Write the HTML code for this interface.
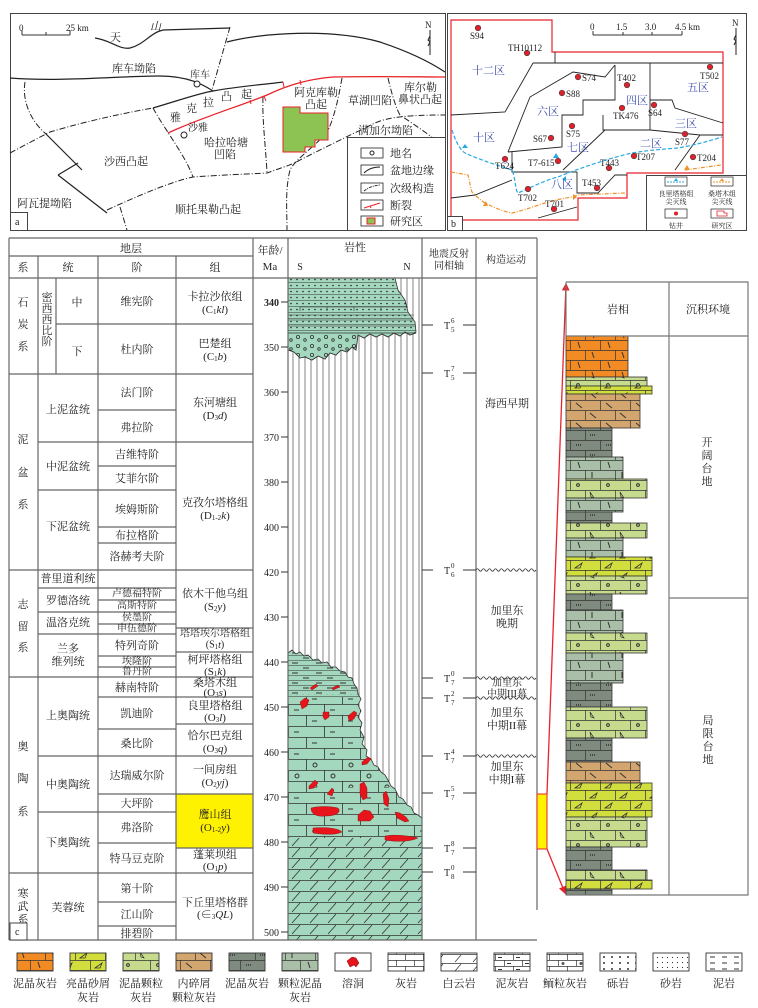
<!DOCTYPE html>
<html><head><meta charset="utf-8"><style>
html,body{margin:0;padding:0;background:#fff}
svg{display:block}
text{font-family:"Liberation Serif","Noto Serif CJK SC",serif;fill:#222}
.t11{font-size:11px}.t10{font-size:10px}.t9{font-size:9px}.t8{font-size:8px}.t7{font-size:7px}
.bl{fill:#4050b0}
</style></head><body>
<svg width="758" height="1008" viewBox="0 0 758 1008" xmlns="http://www.w3.org/2000/svg">
<defs>
<pattern id="limeG" patternUnits="userSpaceOnUse" width="36" height="22"><rect width="36" height="22" fill="#a3d8be"/><path d="M0,0.5H36M0,11.5H36M0.5,0V11M18.5,11V22" stroke="#333" stroke-width="0.8"/><path d="M6,6H11M24,17H29" stroke="#333" stroke-width="1"/></pattern>
<pattern id="marlG" patternUnits="userSpaceOnUse" width="24" height="10"><rect width="24" height="10" fill="#a3d8be"/><path d="M0,0.5H24M0,5.5H24" stroke="#333" stroke-width="0.6"/><path d="M4,3H10M15,8H21" stroke="#333" stroke-width="1"/></pattern>
<pattern id="dolG" patternUnits="userSpaceOnUse" width="36" height="11"><rect width="36" height="11" fill="#a3d8be"/><path d="M0,0.5H36M4,10L12,1M22,10L30,1" stroke="#333" stroke-width="0.8"/></pattern>
<pattern id="oolG" patternUnits="userSpaceOnUse" width="36" height="22"><rect width="36" height="22" fill="#a3d8be"/><path d="M0,0.5H36M0,11.5H36M0.5,0V11M18.5,11V22" stroke="#333" stroke-width="0.8"/><circle cx="9" cy="6" r="2" fill="none" stroke="#333"/><circle cx="27" cy="17" r="2" fill="none" stroke="#333"/></pattern>
<pattern id="sandG" patternUnits="userSpaceOnUse" width="6" height="6"><rect width="6" height="6" fill="#a3d8be"/><path d="M0,0.5H6" stroke="#333" stroke-width="0.5"/><circle cx="3" cy="3.5" r="0.8" fill="#222"/></pattern>
<pattern id="cgG" patternUnits="userSpaceOnUse" width="14" height="9"><rect width="14" height="9" fill="#a3d8be"/><circle cx="4" cy="4" r="1.6" fill="none" stroke="#333" stroke-width="0.8"/><circle cx="11" cy="7" r="1.3" fill="none" stroke="#333" stroke-width="0.8"/></pattern>
<pattern id="pO" patternUnits="userSpaceOnUse" width="30" height="20"><rect width="30" height="20" fill="#f28b24"/><path d="M0,0.5H30M0,10.5H30M0.5,0V10M15.5,10V20" stroke="#333" stroke-width="0.7"/><path d="M8,2L10,8M22,12L24,18" stroke="#333"/></pattern>
<pattern id="pLG" patternUnits="userSpaceOnUse" width="30" height="20"><rect width="30" height="20" fill="#c7db8e"/><path d="M0,0.5H30M0,10.5H30M0.5,0V10M15.5,10V20" stroke="#333" stroke-width="0.7"/><circle cx="8" cy="5" r="1.4" fill="none" stroke="#333"/><path d="M20,12L24,18L21,17Z" fill="none" stroke="#333" stroke-width="0.7"/></pattern>
<pattern id="pYG" patternUnits="userSpaceOnUse" width="30" height="20"><rect width="30" height="20" fill="#d2de3e"/><path d="M0,0.5H30M0,10.5H30M0.5,0V10M15.5,10V20" stroke="#333" stroke-width="0.7"/><path d="M5,8L12,3L10,8Z M20,18L27,13L25,18Z" fill="none" stroke="#333" stroke-width="0.8"/></pattern>
<pattern id="pT" patternUnits="userSpaceOnUse" width="30" height="20"><rect width="30" height="20" fill="#d3a670"/><path d="M0,0.5H30M0,10.5H30M0.5,0V10M15.5,10V20" stroke="#333" stroke-width="0.7"/><path d="M6,3L12,8M20,13L26,18" stroke="#333"/></pattern>
<pattern id="pDG" patternUnits="userSpaceOnUse" width="30" height="20"><rect width="30" height="20" fill="#808b80"/><path d="M0,0.5H30M0,10.5H30M0.5,0V10M15.5,10V20" stroke="#333" stroke-width="0.7"/><path d="M6,5h5M20,15h5" stroke="#222" stroke-width="1.2" stroke-dasharray="1,1"/></pattern>
<pattern id="pGG" patternUnits="userSpaceOnUse" width="30" height="20"><rect width="30" height="20" fill="#a9bfa8"/><path d="M0,0.5H30M0,10.5H30M0.5,0V10M15.5,10V20" stroke="#333" stroke-width="0.7"/><path d="M8,2L10,8M22,12V18" stroke="#333"/></pattern>
<pattern id="wLime" patternUnits="userSpaceOnUse" width="18" height="12"><rect width="18" height="12" fill="#fff"/><path d="M0,0.5H18M0,6.5H18M0.5,0V6M9.5,6V12" stroke="#333" stroke-width="0.7"/></pattern>
<pattern id="wDol" patternUnits="userSpaceOnUse" width="18" height="9"><rect width="18" height="9" fill="#fff"/><path d="M0,0.5H18M5,8L11,1" stroke="#333" stroke-width="0.7"/></pattern>
<pattern id="wMarl" patternUnits="userSpaceOnUse" width="18" height="12"><rect width="18" height="12" fill="#fff"/><path d="M0,0.5H18M0,6.5H18M0.5,0V6M9.5,6V12" stroke="#333" stroke-width="0.7"/><path d="M3,3.5H7M12,9.5H16" stroke="#333"/></pattern>
<pattern id="wOol" patternUnits="userSpaceOnUse" width="18" height="12"><rect width="18" height="12" fill="#fff"/><path d="M0,0.5H18M0,6.5H18M0.5,0V6M9.5,6V12" stroke="#333" stroke-width="0.7"/><circle cx="5" cy="3.5" r="1.5" fill="#555"/></pattern>
<pattern id="wCg" patternUnits="userSpaceOnUse" width="8" height="6"><rect width="8" height="6" fill="#fff"/><circle cx="4" cy="3" r="1" fill="#333"/></pattern>
<pattern id="wSd" patternUnits="userSpaceOnUse" width="5" height="5"><rect width="5" height="5" fill="#fff"/><circle cx="2.5" cy="2.5" r="0.6" fill="#333"/></pattern>
<pattern id="wMud" patternUnits="userSpaceOnUse" width="12" height="6"><rect width="12" height="6" fill="#fff"/><path d="M2,3H7" stroke="#333"/></pattern>
<clipPath id="lowClip"><path d="M288,653 L292,650 296,654 300,652 304,656 308,655 313,660 318,659 322,663 327,662 331,667 336,667 340,671 345,672 348,677 352,678 354,684 357,688 358,694 361,699 358,705 361,711 358,717 362,723 360,730 364,737 362,744 367,750 366,756 371,759 374,765 378,767 381,772 385,775 388,780 391,786 395,789 399,797 403,799 407,805 411,807 414,813 418,815 422,818 L422,940 L288,940 Z"/></clipPath>
<marker id="ar" markerWidth="6" markerHeight="6" refX="5" refY="3" orient="auto"><path d="M0,0L6,3L0,6Z" fill="#e8232a"/></marker>
</defs>

<!-- ================= PANEL A ================= -->
<rect x="10.5" y="13.5" width="435" height="217" fill="#fff" stroke="#444"/>
<path d="M22,35H70M22,30V35M46,32V35M70,30V35" stroke="#333" fill="none"/>
<text x="19" y="31" class="t9">0</text><text x="66" y="31" class="t9">25 km</text>
<text x="110" y="41" class="t11">天</text><text x="150" y="30" class="t11" font-style="italic">山</text>
<g fill="none" stroke="#222" stroke-width="1.2">
<path d="M95,38 C110,40 120,50 130,48 C145,44 150,33 163,30 L230,28"/>
<path d="M227,42 C260,33 330,28 380,42 C410,52 430,62 445,72"/>
<path d="M10,78 C60,82 120,76 160,76 C190,76 205,86 213,91"/>
<path d="M153,108 C180,100 200,93 213,91 C240,86 270,84 283,82"/>
<path d="M45,133 L82,170 M58,175 L78,163 M58,175 L107,213"/>
</g>
<g fill="none" stroke="#222" stroke-width="1" stroke-dasharray="6,2,1,2">
<path d="M230,27 L212,90"/>
<path d="M25,82 C22,100 30,120 45,133"/>
<path d="M10,153 C25,145 40,137 50,132 C90,120 130,112 153,108"/>
<path d="M153,108 C165,130 185,155 193,177"/>
<path d="M263,97 C262,120 266,150 267,173"/>
<path d="M342,78 C338,100 335,115 327,133 C310,150 295,160 290,170 C285,190 287,210 287,230"/>
<path d="M107,210 C140,195 170,182 193,177 C220,175 250,174 267,173 C280,168 292,165 300,160 C330,145 350,135 367,127 C380,120 390,115 445,115"/>
<path d="M388,78 C392,95 396,108 400,115 C415,125 425,132 433,138"/>
<path d="M120,207 L127,230"/>
</g>
<path d="M168,133 C200,118 240,106 267,95 C290,84 310,79 333,77 C380,76 420,77 445,77" fill="none" stroke="#e8232a" stroke-width="1.3"/>
<path d="M283,82 l1,5 M300,80 l1,5 M264,96 l2,5 M250,100 l1,4" stroke="#e8232a"/>
<path d="M283,107 H300 V113 H328 V140 H315 V147 H305 V152 H283 Z" fill="#8cc352" stroke="#e8232a" stroke-width="1"/>
<circle cx="197" cy="84" r="3" fill="#fff" stroke="#222"/>
<circle cx="184" cy="135" r="3" fill="#fff" stroke="#222"/>
<text x="112" y="72" class="t11">库车坳陷</text>
<text x="190" y="78" class="t10">库车</text>
<text x="170" y="121" class="t11">雅</text><text x="186" y="112" class="t11">克</text><text x="203" y="106" class="t11">拉</text><text x="221" y="100" class="t11">凸</text><text x="241" y="98" class="t11">起</text>
<text x="188" y="131" class="t10">沙雅</text>
<text x="204" y="146" class="t11">哈拉哈塘</text><text x="214" y="158" class="t11">凹陷</text>
<text x="104" y="165" class="t11">沙西凸起</text>
<text x="294" y="96" class="t11">阿克库勒</text><text x="305" y="108" class="t11">凸起</text>
<text x="348" y="104" class="t11">草湖凹陷</text>
<text x="404" y="91" class="t11">库尔勒</text><text x="398" y="103" class="t11">鼻状凸起</text>
<text x="358" y="134" class="t11">满加尔坳陷</text>
<text x="17" y="207" class="t11">阿瓦提坳陷</text>
<text x="175" y="213" class="t11">顺托果勒凸起</text>
<text x="425" y="28" class="t9">N</text><path d="M430,30 V55 M430,36 l-2,4 l2,2 l-2,4" stroke="#222" fill="none"/>
<rect x="347.5" y="137.5" width="98" height="93" fill="#fff" stroke="#444"/>
<g fill="#fff" stroke="#222" stroke-width="0.8">
<rect x="361" y="148" width="22" height="10"/><rect x="361" y="165" width="22" height="10"/><rect x="361" y="183" width="22" height="10"/><rect x="361" y="200" width="22" height="10"/><rect x="361" y="216" width="22" height="10"/>
</g>
<circle cx="372" cy="153" r="2" fill="none" stroke="#222"/>
<path d="M364,173 Q370,167 380,167" fill="none" stroke="#222"/>
<path d="M364,191 Q370,186 380,185" fill="none" stroke="#222" stroke-dasharray="3,1,1,1"/>
<path d="M364,208 L380,203 M370,206 l1,2" stroke="#e8232a" fill="none"/>
<path d="M367,218 H375 V224 H367Z" fill="#8cc352" stroke="#e8232a"/>
<text x="390" y="157" class="t11">地名</text><text x="390" y="174" class="t11">盆地边缘</text><text x="390" y="192" class="t11">次级构造</text><text x="390" y="209" class="t11">断裂</text><text x="390" y="225" class="t11">研究区</text>
<rect x="10.5" y="212.5" width="17" height="18" fill="#fff" stroke="#444"/><text x="15" y="225" class="t10">a</text>

<!-- ================= PANEL B ================= -->
<rect x="447.5" y="13.5" width="299" height="217" fill="#fff" stroke="#444"/>
<path d="M451,20 H552 V52 H723 V173 H627 V198 H578 V220 H451 Z" fill="none" stroke="#e8232a" stroke-width="1.2"/>
<g fill="none" stroke="#222" stroke-width="0.9">
<path d="M555,52 V63 M533,63 H723"/>
<path d="M533,63 L505,112 L451,115"/>
<path d="M615,65 L605,77 L573,72 L530,97 L508,152"/>
<path d="M615,65 V100 H583 V115 H562 V147 L508,152"/>
<path d="M603,115 V130 H650"/>
<path d="M650,63 V130"/>
<path d="M650,100 H672 L675,108 L723,123"/>
<path d="M605,130 L563,170"/>
<path d="M650,130 L700,135 H723"/>
<path d="M700,135 L675,170"/>
<path d="M512,152 V172 H577"/>
<path d="M512,180 L475,195 L451,198"/>
<path d="M577,172 V193 H598 L615,175 H627"/>
<path d="M538,218 L577,207"/>
</g>
<path d="M452,130 C455,140 460,150 465,153 C480,160 500,166 512,170 C516,180 515,190 518,193 C530,188 545,180 558,177 C580,168 610,158 632,153 C650,150 665,149 678,148 C700,144 712,140 722,137" fill="none" stroke="#29a8e0" stroke-width="1.2" stroke-dasharray="4,2"/>
<path d="M451,172 L468,175 C470,183 471,190 472,192 C478,198 482,201 485,203 C495,208 505,212 512,213 C525,210 535,206 545,203 C555,200 565,198 572,197 L578,195 L625,193" fill="none" stroke="#f0922a" stroke-width="1.2" stroke-dasharray="4,1.5,1,1.5"/>
<path d="M685,170 C700,168 712,166 722,165" fill="none" stroke="#f0922a" stroke-width="1.2" stroke-dasharray="4,1.5,1,1.5"/>
<path d="M462,148 l3,-4 l3,4Z M553,158 l3,-5 l3,5Z M562,179 l4,-3 l0,6Z" fill="#29a8e0"/>
<path d="M684,170 l3,-5 l3,5Z M483,206 l3,-5 l2,5Z M573,194 l4,3 l-4,3Z" fill="#f0922a"/>
<g fill="#e0202a" stroke="#444" stroke-width="0.6">
<circle cx="478" cy="28" r="2.8"/><circle cx="527" cy="53" r="2.8"/><circle cx="578" cy="77" r="2.8"/><circle cx="627" cy="85" r="2.8"/><circle cx="710" cy="67" r="2.8"/><circle cx="562" cy="93" r="2.8"/><circle cx="622" cy="108" r="2.8"/><circle cx="654" cy="105" r="2.8"/><circle cx="572" cy="126" r="2.8"/><circle cx="551" cy="138" r="2.8"/><circle cx="685" cy="134" r="2.8"/><circle cx="505" cy="159" r="2.8"/><circle cx="558" cy="161" r="2.8"/><circle cx="609" cy="168" r="2.8"/><circle cx="634" cy="156" r="2.8"/><circle cx="693" cy="157" r="2.8"/><circle cx="597" cy="188" r="2.8"/><circle cx="528" cy="189" r="2.8"/><circle cx="554" cy="209" r="2.8"/>
</g>
<g class="t9">
<text x="470" y="39" class="t9">S94</text><text x="508" y="51" class="t9">TH10112</text><text x="582" y="81" class="t9">S74</text><text x="617" y="81" class="t9">T402</text><text x="700" y="79" class="t9">T502</text><text x="566" y="97" class="t9">S88</text><text x="613" y="119" class="t9">TK476</text><text x="648" y="116" class="t9">S64</text><text x="566" y="137" class="t9">S75</text><text x="533" y="142" class="t9">S67</text><text x="675" y="145" class="t9">S77</text><text x="495" y="169" class="t9">T624</text><text x="528" y="166" class="t9">T7-615</text><text x="600" y="166" class="t9">T443</text><text x="636" y="160" class="t9">T207</text><text x="697" y="161" class="t9">T204</text><text x="582" y="186" class="t9">T453</text><text x="518" y="201" class="t9">T702</text><text x="545" y="207" class="t9">T701</text>
</g>
<text x="472" y="74" class="t11 bl">十二区</text><text x="537" y="115" class="t11 bl">六区</text><text x="626" y="104" class="t11 bl">四区</text><text x="687" y="91" class="t11 bl">五区</text><text x="675" y="127" class="t11 bl">三区</text><text x="473" y="141" class="t11 bl">十区</text><text x="567" y="151" class="t11 bl">七区</text><text x="640" y="147" class="t11 bl">二区</text><text x="551" y="188" class="t11 bl">八区</text>
<path d="M593,35H682M593,31V35M623,32V35M652,32V35M682,31V35" stroke="#333" fill="none"/>
<text x="590" y="30" class="t9">0</text><text x="616" y="30" class="t9">1.5</text><text x="645" y="30" class="t9">3.0</text><text x="675" y="30" class="t9">4.5 km</text>
<text x="732" y="26" class="t9">N</text><path d="M736,28 V55 M736,35 l-2,4 l2,2 l-2,4" stroke="#222" fill="none"/>
<rect x="646.5" y="175.5" width="100" height="55" fill="#fff" stroke="#444"/>
<rect x="665" y="177" width="22" height="9" fill="#fff" stroke="#222" stroke-width="0.7"/><path d="M667,182H685" stroke="#29a8e0" stroke-dasharray="2,1"/><path d="M674,181 l2,-3 l2,3Z" fill="#29a8e0"/>
<rect x="711" y="177" width="22" height="9" fill="#fff" stroke="#222" stroke-width="0.7"/><path d="M713,182H731" stroke="#f0922a" stroke-dasharray="2,1"/><path d="M720,181 l2,-3 l2,3Z" fill="#f0922a"/>
<text x="676" y="196" class="t7" text-anchor="middle">良里塔格组</text><text x="676" y="204" class="t7" text-anchor="middle">尖灭线</text>
<text x="722" y="196" class="t7" text-anchor="middle">桑塔木组</text><text x="722" y="204" class="t7" text-anchor="middle">尖灭线</text>
<rect x="665" y="209" width="22" height="9" fill="#fff" stroke="#222" stroke-width="0.7"/><circle cx="676" cy="213.5" r="2" fill="#e0202a"/>
<rect x="711" y="209" width="22" height="9" fill="#fff" stroke="#222" stroke-width="0.7"/><path d="M717,211H724V213H727V216H717Z" fill="#fff" stroke="#e8232a" stroke-width="0.8"/>
<text x="676" y="228" class="t7" text-anchor="middle">钻井</text><text x="722" y="228" class="t7" text-anchor="middle">研究区</text>
<rect x="447.5" y="216.5" width="15" height="14" fill="#fff" stroke="#444"/><text x="451" y="227" class="t10">b</text>

<!-- ================= PANEL C TABLE ================= -->
<rect x="176" y="794" width="77" height="54" fill="#fff200" stroke="#c8a800" stroke-width="1"/>
<!-- lithology column -->
<g stroke="#777" stroke-width="0.9">
<path d="M293,278V940M299,278V940M305,278V940M311,278V940M317,278V940M323,278V940M329,278V940M335,278V940M341,278V940M347,278V940M353,278V940M359,278V940M365,278V940M371,278V940M377,278V940M383,278V940M389,278V940M395,278V940M401,278V940M407,278V940M413,278V940M419,278V940"/>
</g>
<path d="M288,278 L395,278 L398,290 L405,300 L408,312 L415,322 L416,332 L410,335 L405,332 L400,336 L394,333 L388,337 L382,334 L376,337 L370,334 L364,338 L358,335 L356,350 L352,347 L347,352 L341,350 L336,355 L330,353 L325,359 L318,356 L312,360 L305,357 L300,358 L294,352 L288,350 Z" fill="url(#sandG)" stroke="#333" stroke-width="0.8"/>
<path d="M288,315 H414 M288,320H414 M288,326H416 M300,307 H408 M300,307V311 M327,307V311 M354,307V311 M381,307V311" stroke="#333" stroke-width="0.6" fill="none"/>
<path d="M288,333 L416,333 L410,335 L405,332 L400,336 L394,333 L388,337 L382,334 L376,337 L370,334 L364,338 L358,335 L356,350 L352,347 L347,352 L341,350 L336,355 L330,353 L325,359 L318,356 L312,360 L305,357 L300,358 L294,352 L288,350 Z" fill="url(#cgG)" stroke="#333" stroke-width="0.8"/>
<g clip-path="url(#lowClip)">
<rect x="288" y="640" width="134" height="60" fill="url(#marlG)"/>
<rect x="288" y="694" width="134" height="3" fill="url(#sandG)"/>
<rect x="288" y="697" width="134" height="60" fill="url(#limeG)"/>
<rect x="288" y="757" width="134" height="30" fill="url(#oolG)"/>
<rect x="288" y="787" width="134" height="51" fill="url(#limeG)"/>
<rect x="288" y="838" width="134" height="102" fill="url(#dolG)"/>
</g>
<path d="M288,653 L292,650 296,654 300,652 304,656 308,655 313,660 318,659 322,663 327,662 331,667 336,667 340,671 345,672 348,677 352,678 354,684 357,688 358,694 361,699 358,705 361,711 358,717 362,723 360,730 364,737 362,744 367,750 366,756 371,759 374,765 378,767 381,772 385,775 388,780 391,786 395,789 399,797 403,799 407,805 411,807 414,813 418,815 422,818" fill="none" stroke="#333" stroke-width="0.8"/>
<g fill="#e8141c" stroke="#7a1010" stroke-width="0.4">
<path d="M310,688 l6,-4 l2,2 l-6,4Z"/><path d="M332,688 l6,-3 l2,2 l-7,3Z"/>
<path d="M300,702 l5,-4 l4,2 l-2,6 l-5,3Z"/><path d="M323,712 l6,0 l0,5 l-4,3 l-2,-3Z"/><path d="M348,716 l6,-5 l3,2 l-3,6 l-5,2Z"/>
<path d="M362,762 l6,-5 l3,2 l-4,5 l-5,1Z"/>
<path d="M309,786 l6,-6 l3,3 l-4,5 l-5,1Z"/><path d="M327,794 l5,-6 l2,2 l-2,6Z"/>
<path d="M360,784 l4,-2 l3,6 l0,10 l-4,2 l-3,-6Z"/><path d="M383,794 l3,-3 l3,8 l-1,8 l-4,-3Z"/>
<path d="M311,808 C318,806 330,806 338,808 C342,812 336,816 326,816 C318,817 311,815 311,808Z"/>
<path d="M358,815 l6,-5 l6,1 l4,6 l-4,4 l-12,0Z"/><path d="M395,812 l5,1 l6,4 l3,4 l-4,1 l-8,-4Z"/>
<path d="M313,828 C325,827 338,828 342,832 C334,836 320,834 313,833Z"/>
<path d="M385,836 C395,834 410,836 418,838 C410,842 395,842 385,840Z"/>
</g>
<!-- table lines -->
<g stroke="#666" stroke-width="1.2" fill="none">
<path d="M9,238 H537 M9,256 H253 M9,278 H537 M9,940 H537"/>
<path d="M9,238 V940 M38,256 V940 M98,256 V940 M176,256 V940 M253,238 V940 M288,238 V940 M422,238 V940 M476,238 V940 M537,238 V910"/>
<path d="M56,278 V374 M56,324 H253"/>
<path d="M9,374 H253 M9,570 H253 M9,677 H253 M9,873 H253"/>
<path d="M38,442 H253 M38,490 H176 M38,588 H176 M38,612 H176 M38,634 H176 M38,756 H253 M38,812 H176"/>
<path d="M98,410 H176 M98,466 H176 M98,527 H176 M98,543 H176 M98,600 H176 M98,624 H176 M98,656 H176 M98,667 H176 M98,697 H253 M98,729 H176 M98,794 H253 M98,843 H176 M98,902 H176 M98,926 H176"/>
<path d="M176,628 H253 M176,652 H253 M176,724 H253 M176,848 H253"/>
</g>
<!-- age ticks -->
<g stroke="#333" stroke-width="1">
<path d="M281,302H288M281,347H288M281,392H288M281,437H288M281,482H288M281,527H288M281,572H288M281,617H288M281,662H288M281,707H288M281,752H288M281,797H288M281,842H288M281,887H288M281,932H288"/>
</g>
<g class="t10" text-anchor="end">
<text x="279" y="306" font-weight="bold">340</text><text x="279" y="351">350</text><text x="279" y="396">360</text><text x="279" y="441">370</text><text x="279" y="486">380</text><text x="279" y="531">400</text><text x="279" y="576">420</text><text x="279" y="621">430</text><text x="279" y="666">440</text><text x="279" y="711">450</text><text x="279" y="756">460</text><text x="279" y="801">470</text><text x="279" y="846">480</text><text x="279" y="891">490</text><text x="279" y="936">500</text>
</g>
<!-- headers -->
<g class="t11" text-anchor="middle">
<text x="131" y="252">地层</text><text x="270" y="254">年龄/</text><text x="270" y="270">Ma</text>
<text x="355" y="251">岩性</text><text x="300" y="270" class="t10">S</text><text x="407" y="270" class="t10">N</text>
<text x="449" y="257" class="t10">地震反射</text><text x="449" y="269" class="t10">同相轴</text>
<text x="506" y="263" class="t10">构造运动</text>
<text x="23" y="271">系</text><text x="68" y="271">统</text><text x="137" y="271">阶</text><text x="215" y="271">组</text>
</g>
<g class="t11" text-anchor="middle" dominant-baseline="central">
<text x="23" y="303">石</text><text x="23" y="325">炭</text><text x="23" y="347">系</text>
<text x="47" y="298">密</text><text x="47" y="309">西</text><text x="47" y="320">西</text><text x="47" y="331">比</text><text x="47" y="342">阶</text>
<text x="77" y="303">中</text><text x="77" y="352">下</text>
<text x="23" y="440">泥</text><text x="23" y="473">盆</text><text x="23" y="505">系</text>
<text x="23" y="605">志</text><text x="23" y="627">留</text><text x="23" y="648">系</text>
<text x="23" y="747">奥</text><text x="23" y="779">陶</text><text x="23" y="812">系</text>
<text x="23" y="894">寒</text><text x="23" y="907">武</text><text x="23" y="920">系</text>
<text x="68" y="410">上泥盆统</text><text x="68" y="467">中泥盆统</text><text x="68" y="527">下泥盆统</text>
<text x="68" y="579">普里道利统</text><text x="68" y="601">罗德洛统</text><text x="68" y="623">温洛克统</text>
<text x="68" y="649">兰多</text><text x="68" y="662">维列统</text>
<text x="68" y="716">上奥陶统</text><text x="68" y="785">中奥陶统</text><text x="68" y="843">下奥陶统</text><text x="68" y="908">芙蓉统</text>
<text x="137" y="302">维宪阶</text><text x="137" y="350">杜内阶</text><text x="137" y="393">法门阶</text><text x="137" y="428">弗拉阶</text><text x="137" y="455">吉维特阶</text><text x="137" y="479">艾菲尔阶</text><text x="137" y="510">埃姆斯阶</text><text x="137" y="536">布拉格阶</text><text x="137" y="557">洛赫考夫阶</text>
<text x="137" y="594" class="t10">卢德福特阶</text><text x="137" y="606" class="t10">高斯特阶</text><text x="137" y="618" class="t10">侯墨阶</text><text x="137" y="629" class="t10">申伍德阶</text><text x="137" y="646">特列奇阶</text><text x="137" y="662" class="t10">埃隆阶</text><text x="137" y="672" class="t10">鲁丹阶</text>
<text x="137" y="688">赫南特阶</text><text x="137" y="714">凯迪阶</text><text x="137" y="744">桑比阶</text><text x="137" y="776">达瑞威尔阶</text><text x="137" y="804">大坪阶</text><text x="137" y="828">弗洛阶</text><text x="137" y="859">特马豆克阶</text><text x="137" y="889">第十阶</text><text x="137" y="915">江山阶</text><text x="137" y="934">排碧阶</text>
<text x="215" y="297">卡拉沙依组</text><text x="215" y="310">(C<tspan font-size="7" dy="2">1</tspan><tspan dy="-2" font-style="italic">kl</tspan>)</text>
<text x="215" y="344">巴楚组</text><text x="215" y="357">(C<tspan font-size="7" dy="2">1</tspan><tspan dy="-2" font-style="italic">b</tspan>)</text>
<text x="215" y="403">东河塘组</text><text x="215" y="416">(D<tspan font-size="7" dy="2">3</tspan><tspan dy="-2" font-style="italic">d</tspan>)</text>
<text x="215" y="503">克孜尔塔格组</text><text x="215" y="516">(D<tspan font-size="7" dy="2">1-2</tspan><tspan dy="-2" font-style="italic">k</tspan>)</text>
<text x="215" y="594">依木干他乌组</text><text x="215" y="607">(S<tspan font-size="7" dy="2">2</tspan><tspan dy="-2" font-style="italic">y</tspan>)</text>
<text x="215" y="634" class="t10">塔塔埃尔塔格组</text><text x="215" y="645" class="t10">(S<tspan font-size="7" dy="2">1</tspan><tspan dy="-2" font-style="italic">t</tspan>)</text>
<text x="215" y="660">柯坪塔格组</text><text x="215" y="672">(S<tspan font-size="7" dy="2">1</tspan><tspan dy="-2" font-style="italic">k</tspan>)</text>
<text x="215" y="683">桑塔木组</text><text x="215" y="693">(O<tspan font-size="7" dy="2">3</tspan><tspan dy="-2" font-style="italic">s</tspan>)</text>
<text x="215" y="706">良里塔格组</text><text x="215" y="718">(O<tspan font-size="7" dy="2">3</tspan><tspan dy="-2" font-style="italic">l</tspan>)</text>
<text x="215" y="736">恰尔巴克组</text><text x="215" y="749">(O<tspan font-size="7" dy="2">3</tspan><tspan dy="-2" font-style="italic">q</tspan>)</text>
<text x="215" y="770">一间房组</text><text x="215" y="783">(O<tspan font-size="7" dy="2">2</tspan><tspan dy="-2" font-style="italic">yj</tspan>)</text>
<text x="215" y="815">鹰山组</text><text x="215" y="828">(O<tspan font-size="7" dy="2">1-2</tspan><tspan dy="-2" font-style="italic">y</tspan>)</text>
<text x="215" y="855">蓬莱坝组</text><text x="215" y="867">(O<tspan font-size="7" dy="2">1</tspan><tspan dy="-2" font-style="italic">p</tspan>)</text>
<text x="215" y="903">下丘里塔格群</text><text x="215" y="915">(∈<tspan font-size="7" dy="2">3</tspan><tspan dy="-2" font-style="italic">QL</tspan>)</text>
</g>
<rect x="10" y="923" width="17" height="17" fill="#fff" stroke="#444"/><text x="15" y="935" class="t10">c</text>
<!-- seismic -->
<g stroke="#333" stroke-width="1">
<path d="M422,325H433M463,325H476 M422,373H433M463,373H476 M422,570H433M463,570H476 M422,678H433M463,678H476 M422,698H433M463,698H476 M422,756H433M463,756H476 M422,793H433M463,793H476 M422,848H433M463,848H476 M422,872H433M463,872H476"/>
</g>
<g class="t10">
<text x="444" y="329">T</text><text x="451" y="323" class="t7">6</text><text x="451" y="332" class="t7">5</text>
<text x="444" y="377">T</text><text x="451" y="371" class="t7">7</text><text x="451" y="380" class="t7">5</text>
<text x="444" y="574">T</text><text x="451" y="568" class="t7">0</text><text x="451" y="577" class="t7">6</text>
<text x="444" y="682">T</text><text x="451" y="676" class="t7">0</text><text x="451" y="685" class="t7">7</text>
<text x="444" y="702">T</text><text x="451" y="696" class="t7">2</text><text x="451" y="705" class="t7">7</text>
<text x="444" y="760">T</text><text x="451" y="754" class="t7">4</text><text x="451" y="763" class="t7">7</text>
<text x="444" y="797">T</text><text x="451" y="791" class="t7">5</text><text x="451" y="800" class="t7">7</text>
<text x="444" y="852">T</text><text x="451" y="846" class="t7">8</text><text x="451" y="855" class="t7">7</text>
<text x="444" y="876">T</text><text x="451" y="870" class="t7">0</text><text x="451" y="879" class="t7">8</text>
</g>
<!-- tectonic -->
<g fill="none" stroke="#333" stroke-width="0.8">
<path d="M476,570 q1.5,-2.5 3,0 t3,0 t3,0 t3,0 t3,0 t3,0 t3,0 t3,0 t3,0 t3,0 t3,0 t3,0 t3,0 t3,0 t3,0 t3,0 t3,0 t3,0 t3,0 t3,0"/>
<path d="M476,678 q1.5,-2.5 3,0 t3,0 t3,0 t3,0 t3,0 t3,0 t3,0 t3,0 t3,0 t3,0 t3,0 t3,0 t3,0 t3,0 t3,0 t3,0 t3,0 t3,0 t3,0 t3,0"/>
<path d="M476,698 q1.5,-2.5 3,0 t3,0 t3,0 t3,0 t3,0 t3,0 t3,0 t3,0 t3,0 t3,0 t3,0 t3,0 t3,0 t3,0 t3,0 t3,0 t3,0 t3,0 t3,0 t3,0"/>
<path d="M476,756 q1.5,-2.5 3,0 t3,0 t3,0 t3,0 t3,0 t3,0 t3,0 t3,0 t3,0 t3,0 t3,0 t3,0 t3,0 t3,0 t3,0 t3,0 t3,0 t3,0 t3,0 t3,0"/>
</g>
<g class="t11" text-anchor="middle">
<text x="507" y="407">海西早期</text>
<text x="507" y="614">加里东</text><text x="507" y="627">晚期</text>
<text x="507" y="686" class="t10">加里东</text><text x="507" y="697" class="t10">中期III幕</text>
<text x="507" y="716">加里东</text><text x="507" y="729">中期II幕</text>
<text x="507" y="770">加里东</text><text x="507" y="783">中期I幕</text>
</g>

<!-- ================= RIGHT LITHOFACIES ================= -->
<rect x="537" y="794" width="10" height="55" fill="#fff200" stroke="#e8232a" stroke-width="1"/>
<path d="M547,794 L566,284" stroke="#e8232a" stroke-width="1.3" marker-end="url(#ar)"/>
<path d="M547,849 L565,893" stroke="#e8232a" stroke-width="1.3" marker-end="url(#ar)"/>
<g stroke="#333" stroke-width="0.8">
<rect x="566" y="336" width="62" height="41" fill="url(#pO)"/>
<rect x="566" y="377" width="81" height="9" fill="url(#pLG)"/>
<rect x="566" y="386" width="86" height="8" fill="url(#pYG)"/>
<rect x="566" y="394" width="74" height="34" fill="url(#pT)"/>
<rect x="566" y="428" width="46" height="29" fill="url(#pDG)"/>
<rect x="566" y="457" width="57" height="22" fill="url(#pGG)"/>
<rect x="566" y="479" width="81" height="19" fill="url(#pLG)"/>
<rect x="566" y="498" width="57" height="14" fill="url(#pGG)"/>
<rect x="566" y="512" width="46" height="11" fill="url(#pDG)"/>
<rect x="566" y="523" width="81" height="15" fill="url(#pLG)"/>
<rect x="566" y="538" width="57" height="19" fill="url(#pGG)"/>
<rect x="566" y="557" width="86" height="19" fill="url(#pYG)"/>
<rect x="566" y="576" width="81" height="18" fill="url(#pLG)"/>
<rect x="566" y="594" width="46" height="16" fill="url(#pDG)"/>
<rect x="566" y="610" width="57" height="23" fill="url(#pGG)"/>
<rect x="566" y="633" width="81" height="20" fill="url(#pLG)"/>
<rect x="566" y="653" width="57" height="30" fill="url(#pGG)"/>
<rect x="566" y="683" width="46" height="24" fill="url(#pDG)"/>
<rect x="566" y="707" width="81" height="31" fill="url(#pLG)"/>
<rect x="566" y="738" width="46" height="24" fill="url(#pDG)"/>
<rect x="566" y="762" width="74" height="21" fill="url(#pT)"/>
<rect x="566" y="783" width="86" height="34" fill="url(#pYG)"/>
<rect x="566" y="817" width="81" height="30" fill="url(#pLG)"/>
<rect x="566" y="847" width="46" height="23" fill="url(#pDG)"/>
<rect x="566" y="870" width="81" height="10" fill="url(#pLG)"/>
<rect x="566" y="880" width="86" height="9" fill="url(#pYG)"/>
<rect x="566" y="889" width="46" height="6" fill="url(#pDG)"/>
</g>
<g fill="none" stroke="#777" stroke-width="1.2">
<path d="M566,282 H748 V895 H669 M566,282 V336 M566,336 H748 M669,282 V895 M669,598 H748 M566,895 H669"/>
</g>
<text x="618" y="313" class="t11" text-anchor="middle">岩相</text>
<text x="708" y="313" class="t11" text-anchor="middle">沉积环境</text>
<g class="t11" text-anchor="middle">
<text x="707" y="446">开</text><text x="707" y="459">阔</text><text x="707" y="472">台</text><text x="707" y="485">地</text>
<text x="708" y="724">局</text><text x="708" y="737">限</text><text x="708" y="750">台</text><text x="708" y="763">地</text>
</g>

<!-- ================= LEGEND ================= -->
<g stroke="#333" stroke-width="0.9">
<rect x="17" y="953" width="36" height="18" fill="url(#pO)"/>
<rect x="70" y="953" width="36" height="18" fill="url(#pYG)"/>
<rect x="123" y="953" width="36" height="18" fill="url(#pLG)"/>
<rect x="176" y="953" width="36" height="18" fill="url(#pT)"/>
<rect x="229" y="953" width="36" height="18" fill="url(#pDG)"/>
<rect x="282" y="953" width="36" height="18" fill="url(#pGG)"/>
<rect x="335" y="953" width="36" height="18" fill="#fff"/>
<rect x="388" y="953" width="36" height="18" fill="url(#wLime)"/>
<rect x="441" y="953" width="36" height="18" fill="url(#wDol)"/>
<rect x="494" y="953" width="36" height="18" fill="url(#wMarl)"/>
<rect x="547" y="953" width="36" height="18" fill="url(#wOol)"/>
<rect x="600" y="953" width="36" height="18" fill="url(#wCg)"/>
<rect x="653" y="953" width="36" height="18" fill="url(#wSd)"/>
<rect x="706" y="953" width="36" height="18" fill="url(#wMud)"/>
</g>
<path d="M347,961 l5,-4 l4,1 l3,5 l-3,4 l-2,-2 l-4,2Z" fill="#e8141c" stroke="#7a1010" stroke-width="0.5"/>
<g class="t11" text-anchor="middle">
<text x="35" y="987">泥晶灰岩</text>
<text x="88" y="987">亮晶砂屑</text><text x="88" y="1001">灰岩</text>
<text x="141" y="987">泥晶颗粒</text><text x="141" y="1001">灰岩</text>
<text x="194" y="987">内碎屑</text><text x="194" y="1001">颗粒灰岩</text>
<text x="247" y="987">泥晶灰岩</text>
<text x="300" y="987">颗粒泥晶</text><text x="300" y="1001">灰岩</text>
<text x="353" y="987">溶洞</text>
<text x="406" y="987">灰岩</text>
<text x="459" y="987">白云岩</text>
<text x="512" y="987">泥灰岩</text>
<text x="565" y="987">鲕粒灰岩</text>
<text x="618" y="987">砾岩</text>
<text x="671" y="987">砂岩</text>
<text x="724" y="987">泥岩</text>
</g>
</svg>
</body></html>
